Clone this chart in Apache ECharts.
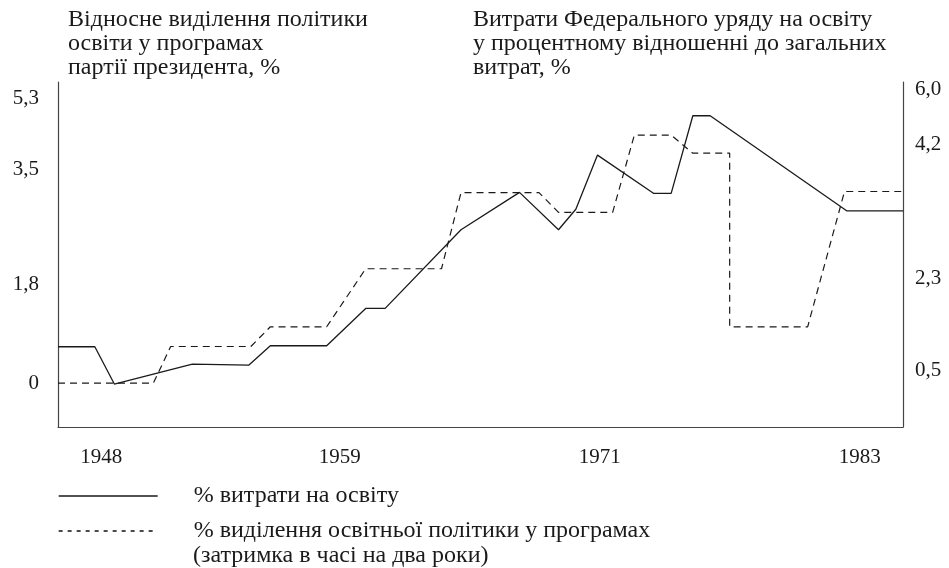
<!DOCTYPE html>
<html>
<head>
<meta charset="utf-8">
<script src="https://cdn.jsdelivr.net/npm/echarts@6/dist/echarts.min.js"></script>
<style>
  html, body { margin: 0; padding: 0; background: #fff; }
  #chart { width: 949px; height: 568px; }
</style>
</head>
<body>
<div id="chart"></div>
<script>
// витрати на освіту (права вісь), суцільна лінія
const expYears = [1946, 1947.7, 1948.6, 1952.2, 1954.8, 1955.8, 1958.4, 1960.2, 1961.1, 1964.6,
  1967.3, 1969.1, 1969.9, 1970.9, 1973.5, 1974.3, 1975.3, 1976.1, 1982.4, 1985]
const expShare = [0.97, 0.97, 0.24, 0.63, 0.61, 0.99, 0.99, 1.72, 1.72, 3.26,
  3.99, 3.26, 3.66, 4.72, 3.97, 3.97, 5.49, 5.49, 3.63, 3.63]

// виділення освітньої політики у програмах (ліва вісь), пунктир
const platYears = [1946, 1950.4, 1951.2, 1954.9, 1955.8, 1958.4, 1960.2, 1963.7, 1964.6, 1968.2,
  1969.1, 1971.6, 1972.6, 1974.3, 1975.3, 1977.0, 1977.0, 1980.6, 1982.3, 1985]
const platShare = [0, 0, 0.67, 0.67, 1.03, 1.03, 2.09, 2.09, 3.48, 3.48,
  3.12, 3.12, 4.53, 4.53, 4.20, 4.20, 1.03, 1.03, 3.50, 3.50]

const yearTicks = [1948, 1959, 1971, 1983]
const leftTicks = [0, 1.8, 3.5, 5.3]
const rightTicks = [0.5, 2.3, 4.2, 6.0]

const EXP_NAME = '% витрати на освіту'
const PLAT_NAME = '% виділення освітньої політики у програмах'

const FONT = 'Liberation Serif'
const INK = '#1a1a1a'

// у вихідному малюнку ці підписи зсунуті відносно лінійної шкали (px, + вгору, - вниз)
const SHIFT = { '3,5': 22, '4,2': 37, '5,3': -6 }

function fmt(v) {
  return v === 0 ? '0' : v.toFixed(1).replace('.', ',')
}
function shiftedLabel(v) {
  const s = fmt(v)
  const d = SHIFT[s]
  if (!d) return `{t|${s}}`
  return d > 0 ? `{t|${s}}\n{sp${d}| }` : `{sp${-d}| }\n{t|${s}}`
}
const labelRich = { t: { fontFamily: FONT, fontSize: 21, color: INK, lineHeight: 22 } }
Object.values(SHIFT).forEach(d => {
  labelRich['sp' + Math.abs(d)] = { fontSize: 2, height: 2 * Math.abs(d), lineHeight: 2 * Math.abs(d) }
})

const chart = echarts.init(document.getElementById('chart'), null, { renderer: 'canvas' })

const textBase = { fontFamily: FONT, fontSize: 24, fontWeight: 'normal', color: INK, lineHeight: 24 }

chart.setOption({
  animation: false,
  backgroundColor: '#fff',
  title: [
    { text: 'Відносне виділення політики\nосвіти у програмах\nпартії президента, %', left: 68, top: 8, padding: 0, textStyle: textBase },
    { text: 'Витрати Федерального уряду на освіту\nу процентному відношенні до загальних\nвитрат, %', left: 473, top: 8, padding: 0, textStyle: textBase },
    { text: '(затримка в часі на два роки)', left: 193, top: 544, padding: 0, textStyle: textBase },
  ],
  grid: { left: 58, right: 46, top: 82, bottom: 141 },
  legend: [
    {
      data: [EXP_NAME], left: 58, top: 484, padding: 0,
      itemWidth: 99, itemHeight: 24,
      itemStyle: { opacity: 0 },
      lineStyle: { width: 1.4 },
      textStyle: { ...textBase, padding: [0, 0, 0, 31] },
      selectedMode: false,
    },
    {
      data: [PLAT_NAME], left: 58, top: 519, padding: 0,
      itemWidth: 99, itemHeight: 24,
      itemStyle: { opacity: 0 },
      lineStyle: { type: [4, 5], width: 1.3, color: '#111' },
      textStyle: { ...textBase, padding: [0, 0, 0, 31] },
      selectedMode: false,
    },
  ],
  xAxis: {
    type: 'value', min: 1946, max: 1985,
    axisLine: { show: true, onZero: false, lineStyle: { color: '#444', width: 1.2 } },
    axisTick: { show: false },
    splitLine: { show: false },
    axisLabel: {
      customValues: yearTicks, margin: 20,
      fontFamily: FONT, fontSize: 21, color: INK,
      formatter: v => String(v),
    },
  },
  yAxis: [
    {
      type: 'value', min: -0.8, max: 5.5, position: 'left',
      axisLine: { show: true, onZero: false, lineStyle: { color: '#444', width: 1.2 } },
      axisTick: { show: false },
      splitLine: { show: false },
      axisLabel: { customValues: leftTicks, margin: 19, formatter: shiftedLabel, rich: labelRich },
    },
    {
      type: 'value', min: -0.6, max: 6.15, position: 'right',
      axisLine: { show: true, onZero: false, lineStyle: { color: '#444', width: 1.2 } },
      axisTick: { show: false },
      splitLine: { show: false },
      axisLabel: { customValues: rightTicks, margin: 12, formatter: shiftedLabel, rich: labelRich },
    },
  ],
  series: [
    {
      name: EXP_NAME, type: 'line', yAxisIndex: 1,
      data: expYears.map((y, i) => [y, expShare[i]]),
      symbol: 'none',
      lineStyle: { color: INK, width: 1.3, type: 'solid' },
      itemStyle: { color: INK },
    },
    {
      name: PLAT_NAME, type: 'line', yAxisIndex: 0,
      data: platYears.map((y, i) => [y, platShare[i]]),
      symbol: 'none',
      lineStyle: { color: INK, width: 1.2, type: [7, 5] },
      itemStyle: { color: INK },
    },
  ],
})
</script>
</body>
</html>
